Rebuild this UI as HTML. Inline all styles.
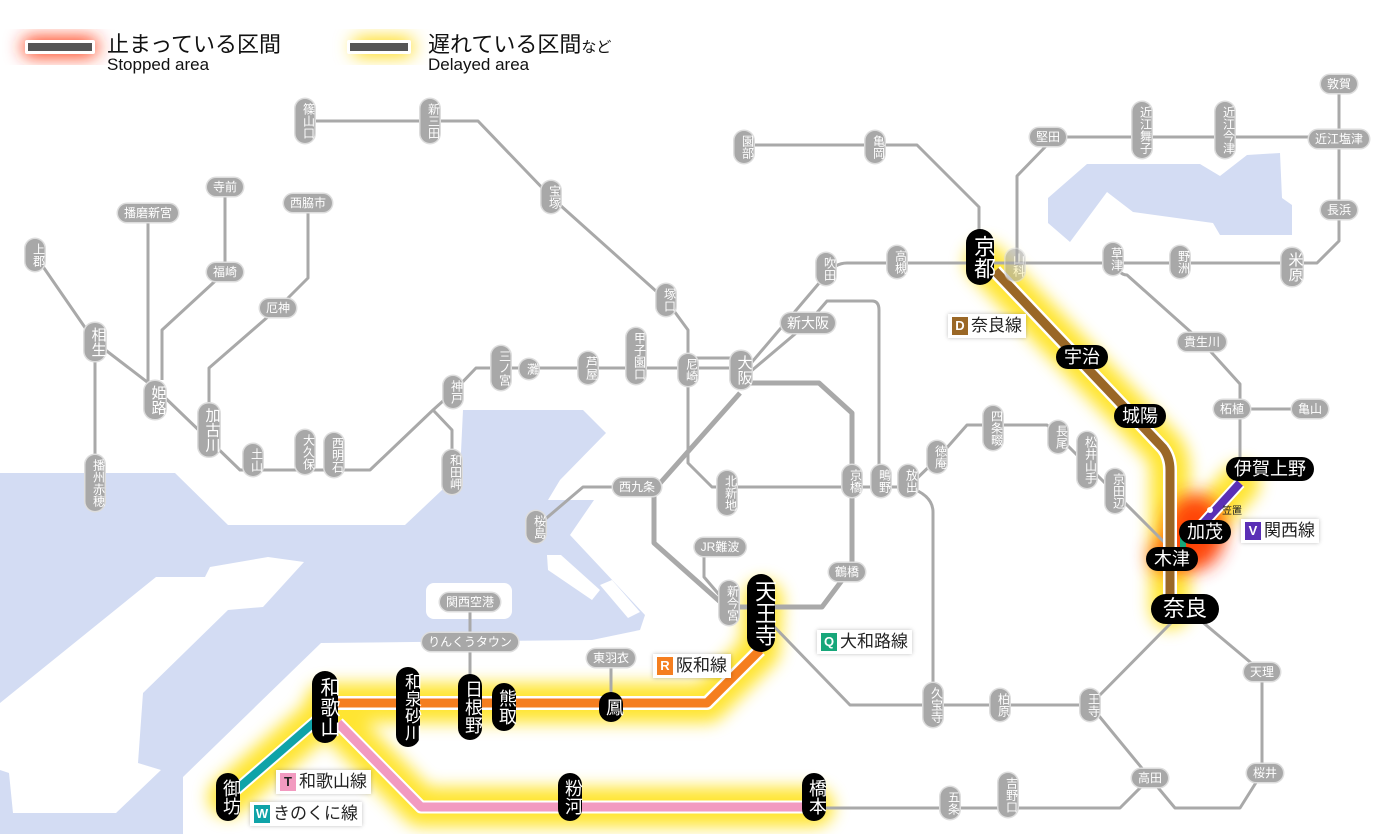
<!DOCTYPE html>
<html><head><meta charset="utf-8"><style>
*{margin:0;padding:0;box-sizing:border-box}
body{width:1400px;height:834px;background:#fff;position:relative;overflow:hidden;font-family:"Liberation Sans","Noto Sans CJK JP",sans-serif}
svg{position:absolute;left:0;top:0}
.s{position:absolute;transform:translate(-50%,-50%);white-space:nowrap;line-height:1;color:#fff;text-align:center}
.g{background:#a8a8a8;box-shadow:0 0 0 1.5px #ddd;border-radius:10px;font-size:12px}
.gv{writing-mode:vertical-rl;text-orientation:upright;width:19px;padding:4px 0}
.gh{height:18px;padding:3px 6px 0}
.big{font-size:15px;width:21px}
.b{background:#000;border-radius:14px;font-size:18px}
.bv{writing-mode:vertical-rl;text-orientation:upright;width:24px;padding:6px 0}
.bh{height:24px;padding:3px 8px 0}
.lab{position:absolute;background:#fff;box-shadow:0 0 4px rgba(0,0,0,.25);font-size:17px;padding:2px 4px;line-height:20px;color:#222;white-space:nowrap}
.lab i{font-style:normal;display:inline-block;color:#fff;font-size:13px;font-weight:bold;width:16px;height:18px;line-height:18px;text-align:center;margin-right:3px;vertical-align:1px}
.leg{position:absolute;color:#111}
</style></head><body>
<svg width="1400" height="834" viewBox="0 0 1400 834">
<defs>
<filter id="bl" x="-20%" y="-20%" width="140%" height="140%"><feGaussianBlur stdDeviation="8"/></filter>
<filter id="bl2" x="-50%" y="-50%" width="200%" height="200%"><feGaussianBlur stdDeviation="9"/></filter>
</defs>
<polygon fill="#d3dcf3" points="0,473 175,473 228,525 405,525 460,473 463,410 583,410 606,433 560,480 548,500 594,500 570,535 645,615 640,630 592,640 321,643 183,777 183,834 0,834"/>
<polygon fill="#fff" points="0,703 156,577 205,577 210,567 268,557 304,562 263,607 228,610 143,693 138,763 161,770 116,813 13,813 9,773 0,770"/>
<rect x="426" y="583" width="86" height="36" rx="8" fill="#fff"/>
<polygon fill="#fff" points="547,555 561,555 600,590 592,600 548,570"/>
<polygon fill="#fff" points="600,585 612,580 640,612 628,618"/>
<polygon fill="#d3dcf3" points="1048,198 1087,164 1200,164 1220,176 1247,155 1280,153 1282,198 1292,205 1292,235 1220,235 1213,223 1133,212 1107,192 1070,242 1048,223"/>
<g fill="none" stroke="#ffdf00" stroke-width="40" stroke-linejoin="round" stroke-linecap="round" filter="url(#bl)" opacity=".8">
<path d="M985,262 L1163,448 Q1170,457 1170,470 V609"/>
<path d="M1240,483 L1185,545"/>
<path d="M763,600 L760,650 L707,703 H325"/>
<path d="M325,713 L228,797"/>
<path d="M338,723 L421,807 H814"/>
</g>
<ellipse cx="1195" cy="532" rx="30" ry="38" fill="#ff2a00" filter="url(#bl2)" opacity=".85"/>
<ellipse cx="1170" cy="556" rx="22" ry="18" fill="#ff3a00" filter="url(#bl2)" opacity=".7"/>
<rect x="22" y="38" width="76" height="18" rx="9" fill="#ff2a00" filter="url(#bl2)"/>
<rect x="352" y="38" width="62" height="18" rx="9" fill="#ffd800" filter="url(#bl2)"/>
<rect x="25" y="40" width="70" height="14" rx="2" fill="#fff"/>
<rect x="28" y="43" width="64" height="8" fill="#555"/>
<rect x="347" y="40" width="64" height="14" rx="2" fill="#fff"/>
<rect x="350" y="43" width="58" height="8" fill="#555"/>
<g fill="none" stroke="#a9a9a9" stroke-width="3" stroke-linejoin="round">
<path d="M305,121 H478 L551,197 L666,300 L688,330 V463 L712,487 H908"/>
<path d="M908,487 L937,459 L967,425 H1047 L1150,528 L1172,550"/>
<path d="M908,487 Q933,495 933,512 V705"/>
<path d="M688,358 H741"/>
<path d="M741,368 H476 L453,392 L433,410 L370,470 H240 L209,440 L155,388 L95,342 L35,255"/>
<path d="M433,410 L452,430 V472"/>
<path d="M95,342 V485"/>
<path d="M148,213 V388"/>
<path d="M162,380 V330 L225,272 V187"/>
<path d="M209,430 V368 L278,308 L308,278 V203"/>
<path d="M741,375 L826,275 Q835,263 847,263 H1317 L1339,241 V84"/>
<path d="M750,372 L808,323 L827,301 H872 Q879,301 879,310 V487"/>
<path d="M744,145 H917 L979,207 V257"/>
<path d="M1048,137 H1339"/>
<path d="M1048,144 L1017,176 V265"/>
<path d="M1113,259 Q1118,275 1127,275 L1202,342 L1240,384 V469"/>
<path d="M1232,409 H1310"/>
<path d="M637,487 H583 L536,527"/>
<path d="M720,547 H704 V577 L722,598"/>
<path d="M761,613 L850,705 H1090 L1172,622"/>
<path d="M1200,620 L1262,672 V773 L1240,808 H1175 L1150,778 L1090,705"/>
<path d="M814,808 H1120 L1150,778"/>
<path d="M470,602 V707"/>
<path d="M611,658 V707"/>
</g>
<path d="M741,383 H819 L852,413 V567 L822,607 H726 L654,543 V490 L740,393" fill="none" stroke="#a9a9a9" stroke-width="5" stroke-linejoin="round"/>
<g fill="none" stroke-linejoin="round">
<path d="M995,271 L1163,448 Q1170,457 1170,470 V609" stroke="#fff" stroke-width="14"/>
<path d="M995,271 L1163,448 Q1170,457 1170,470 V609" stroke="#9a6726" stroke-width="9"/>
<path d="M760,650 L707,703 H325" stroke="#fff" stroke-width="14"/>
<path d="M760,650 L707,703 H325" stroke="#f57e1f" stroke-width="9"/>
<path d="M325,713 L228,797" stroke="#fff" stroke-width="12"/>
<path d="M325,713 L228,797" stroke="#0fa3a8" stroke-width="8"/>
<path d="M338,723 L421,807 H814" stroke="#fff" stroke-width="13"/>
<path d="M338,723 L421,807 H814" stroke="#f29ac0" stroke-width="9"/>
<path d="M1240,483 L1190,538" stroke="#fff" stroke-width="12"/>
<path d="M1240,483 L1190,538" stroke="#5a2fb6" stroke-width="8"/>
<path d="M1183,532 V552" stroke="#17a77a" stroke-width="6"/>
</g>
<circle cx="1210" cy="510" r="3" fill="#fff"/>
<text x="1222" y="514" font-size="10" fill="#222" font-family="Liberation Sans,Noto Sans CJK JP,sans-serif">笠置</text>
</svg>

<div class="leg" style="left:107px;top:27px;font-size:22px">止まっている区間</div>
<div class="leg" style="left:107px;top:55px;font-size:17px">Stopped area</div>
<div class="leg" style="left:428px;top:27px;font-size:22px">遅れている区間<span style="font-size:15px">など</span></div>
<div class="leg" style="left:428px;top:55px;font-size:17px">Delayed area</div>

<div class="s g gv" style="left:305px;top:121px">篠山口</div>
<div class="s g gv" style="left:430px;top:121px">新三田</div>
<div class="s g gv" style="left:551px;top:197px">宝塚</div>
<div class="s g gv" style="left:666px;top:300px">塚口</div>
<div class="s g gv" style="left:35px;top:255px">上郡</div>
<div class="s g gv big" style="left:95px;top:342px">相生</div>
<div class="s g gv big" style="left:155px;top:400px">姫路</div>
<div class="s g gv big" style="left:209px;top:430px">加古川</div>
<div class="s g gv" style="left:95px;top:483px">播州赤穂</div>
<div class="s g gv" style="left:253px;top:460px">土山</div>
<div class="s g gv" style="left:305px;top:452px">大久保</div>
<div class="s g gv" style="left:334px;top:455px">西明石</div>
<div class="s g gv" style="left:452px;top:472px">和田岬</div>
<div class="s g gv" style="left:453px;top:392px">神戸</div>
<div class="s g gv" style="left:501px;top:368px">三ノ宮</div>
<div class="s g gv" style="left:529px;top:369px">灘</div>
<div class="s g gv" style="left:588px;top:368px">芦屋</div>
<div class="s g gv" style="left:636px;top:356px">甲子園口</div>
<div class="s g gv" style="left:688px;top:370px">尼崎</div>
<div class="s g gv big" style="left:741px;top:370px">大阪</div>
<div class="s g gv" style="left:826px;top:269px">吹田</div>
<div class="s g gv" style="left:897px;top:262px">高槻</div>
<div class="s g gv" style="left:744px;top:147px">園部</div>
<div class="s g gv" style="left:875px;top:147px">亀岡</div>
<div class="s g gv" style="left:727px;top:493px">北新地</div>
<div class="s g gv" style="left:852px;top:481px">京橋</div>
<div class="s g gv" style="left:881px;top:481px">鴫野</div>
<div class="s g gv" style="left:908px;top:481px">放出</div>
<div class="s g gv" style="left:937px;top:457px">徳庵</div>
<div class="s g gv" style="left:993px;top:428px">四条畷</div>
<div class="s g gv" style="left:1058px;top:437px">長尾</div>
<div class="s g gv" style="left:1087px;top:460px">松井山手</div>
<div class="s g gv" style="left:1115px;top:491px">京田辺</div>
<div class="s g gv" style="left:729px;top:603px">新今宮</div>
<div class="s g gv" style="left:536px;top:527px">桜島</div>
<div class="s g gv" style="left:1015px;top:265px;opacity:.6">山科</div>
<div class="s g gv" style="left:1113px;top:259px">草津</div>
<div class="s g gv" style="left:1180px;top:262px">野洲</div>
<div class="s g gv big" style="left:1292px;top:267px">米原</div>
<div class="s g gv" style="left:1142px;top:130px">近江舞子</div>
<div class="s g gv" style="left:1225px;top:130px">近江今津</div>
<div class="s g gv" style="left:933px;top:705px">久宝寺</div>
<div class="s g gv" style="left:1000px;top:705px">柏原</div>
<div class="s g gv" style="left:1090px;top:705px">王寺</div>
<div class="s g gv" style="left:950px;top:803px">五条</div>
<div class="s g gv" style="left:1008px;top:795px">吉野口</div>

<div class="s g gh" style="left:148px;top:213px">播磨新宮</div>
<div class="s g gh" style="left:225px;top:187px">寺前</div>
<div class="s g gh" style="left:225px;top:272px">福崎</div>
<div class="s g gh" style="left:308px;top:203px">西脇市</div>
<div class="s g gh" style="left:278px;top:308px">厄神</div>
<div class="s g gh" style="left:808px;top:323px;font-size:14px;height:20px">新大阪</div>
<div class="s g gh" style="left:637px;top:487px">西九条</div>
<div class="s g gh" style="left:720px;top:547px">JR難波</div>
<div class="s g gh" style="left:847px;top:572px">鶴橋</div>
<div class="s g gh" style="left:611px;top:658px">東羽衣</div>
<div class="s g gh" style="left:470px;top:642px">りんくうタウン</div>
<div class="s g gh" style="left:470px;top:602px">関西空港</div>
<div class="s g gh" style="left:1048px;top:137px">堅田</div>
<div class="s g gh" style="left:1339px;top:139px">近江塩津</div>
<div class="s g gh" style="left:1339px;top:84px">敦賀</div>
<div class="s g gh" style="left:1339px;top:210px">長浜</div>
<div class="s g gh" style="left:1202px;top:342px">貴生川</div>
<div class="s g gh" style="left:1232px;top:409px">柘植</div>
<div class="s g gh" style="left:1310px;top:409px">亀山</div>
<div class="s g gh" style="left:1262px;top:672px">天理</div>
<div class="s g gh" style="left:1150px;top:778px">高田</div>
<div class="s g gh" style="left:1265px;top:773px">桜井</div>

<div class="s b bv" style="left:980px;top:257px;width:28px;font-size:22px">京都</div>
<div class="s b bv" style="left:761px;top:613px;width:28px;font-size:22px">天王寺</div>
<div class="s b bv" style="left:325px;top:707px;width:26px;font-size:20px">和歌山</div>
<div class="s b bv" style="left:408px;top:707px;font-size:17px">和泉砂川</div>
<div class="s b bv" style="left:470px;top:707px">日根野</div>
<div class="s b bv" style="left:504px;top:707px">熊取</div>
<div class="s b bv" style="left:611px;top:707px">鳳</div>
<div class="s b bv" style="left:228px;top:797px">御坊</div>
<div class="s b bv" style="left:570px;top:797px">粉河</div>
<div class="s b bv" style="left:814px;top:797px">橋本</div>
<div class="s b bh" style="left:1082px;top:357px">宇治</div>
<div class="s b bh" style="left:1140px;top:416px">城陽</div>
<div class="s b bh" style="left:1172px;top:559px">木津</div>
<div class="s b bh" style="left:1205px;top:532px">加茂</div>
<div class="s b bh" style="left:1270px;top:469px">伊賀上野</div>
<div class="s b bh" style="left:1185px;top:609px;font-size:22px;height:30px;padding:4px 12px 0;border-radius:15px">奈良</div>

<div class="lab" style="left:948px;top:314px"><i style="background:#9a6726">D</i>奈良線</div>
<div class="lab" style="left:1241px;top:519px"><i style="background:#5a2fb6">V</i>関西線</div>
<div class="lab" style="left:653px;top:654px"><i style="background:#f57e1f">R</i>阪和線</div>
<div class="lab" style="left:817px;top:630px"><i style="background:#17a77a">Q</i>大和路線</div>
<div class="lab" style="left:276px;top:770px"><i style="background:#f29ac0;color:#222">T</i>和歌山線</div>
<div class="lab" style="left:250px;top:802px"><i style="background:#0fa3a8">W</i>きのくに線</div>
</body></html>
